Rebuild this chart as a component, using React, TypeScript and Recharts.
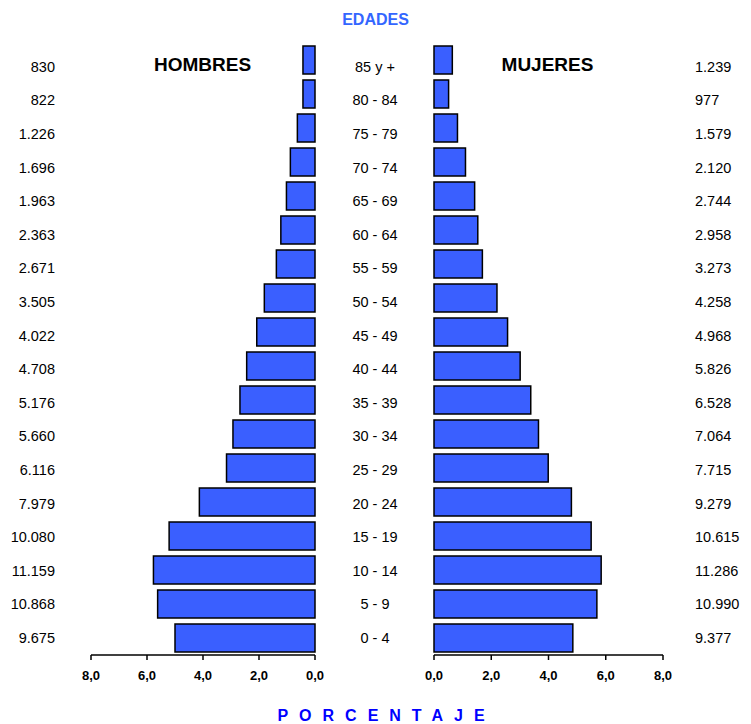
import { BarChart, Bar, XAxis, YAxis } from 'recharts'

const ageGroups = ['85 y +', '80 - 84', '75 - 79', '70 - 74', '65 - 69', '60 - 64', '55 - 59', '50 - 54', '45 - 49', '40 - 44', '35 - 39', '30 - 34', '25 - 29', '20 - 24', '15 - 19', '10 - 14', '5 - 9', '0 - 4']
const menCounts = ['830', '822', '1.226', '1.696', '1.963', '2.363', '2.671', '3.505', '4.022', '4.708', '5.176', '5.660', '6.116', '7.979', '10.080', '11.159', '10.868', '9.675']
const womenCounts = ['1.239', '977', '1.579', '2.120', '2.744', '2.958', '3.273', '4.258', '4.968', '5.826', '6.528', '7.064', '7.715', '9.279', '10.615', '11.286', '10.990', '9.377']
const menPct = [0.43, 0.43, 0.63, 0.88, 1.02, 1.22, 1.38, 1.81, 2.08, 2.44, 2.68, 2.93, 3.16, 4.13, 5.21, 5.77, 5.62, 5.0]
const womenPct = [0.64, 0.51, 0.82, 1.1, 1.42, 1.53, 1.69, 2.2, 2.57, 3.01, 3.38, 3.65, 3.99, 4.8, 5.49, 5.84, 5.69, 4.85]
const pctTicks = [0, 2, 4, 6, 8]

const data = ageGroups.map((age, i) => ({
  age,
  men: menPct[i],
  women: womenPct[i],
}))

const FONT = '"Liberation Sans", Arial, sans-serif'
const BAR = '#3a5fff'
const fmt = (v: number) => v.toFixed(1).replace('.', ',')

// labels in the original sit a little lower than the bars near the top
const labelY = (props: any) => props.y + 5 + (17 - props.index) * 0.4

const MenCountTick = (props: any) => (
  <text x={55} y={labelY(props)} textAnchor="end" fontSize={14.5} fontFamily={FONT} fill="#000">
    {menCounts[props.index]}
  </text>
)

const AgeTick = (props: any) => (
  <text x={375} y={labelY(props)} textAnchor="middle" fontSize={14.5} fontFamily={FONT} fill="#000">
    {ageGroups[props.index]}
  </text>
)

const WomenCountTick = (props: any) => (
  <text x={285} y={labelY(props)} textAnchor="start" fontSize={14.5} fontFamily={FONT} fill="#000">
    {womenCounts[props.index]}
  </text>
)

const axisTick = { fontSize: 13, fontFamily: FONT, fill: '#000', fontWeight: 'bold' as const }

export default function App() {
  return (
    <div style={{ position: 'absolute', left: 0, top: 0, width: 751, height: 724, background: '#fff', fontFamily: FONT }}>
      <div style={{ position: 'absolute', left: 0, top: 0 }}>
        <BarChart
          width={410}
          height={724}
          data={data}
          layout="vertical"
          margin={{ top: 43, bottom: 0, left: 0, right: 0 }}
          barCategoryGap={3}
        >
          <XAxis
            type="number"
            domain={[0, 8]}
            ticks={pctTicks}
            reversed
            tickFormatter={fmt}
            tick={axisTick}
            stroke="#000"
            strokeWidth={1.5}
            tickSize={5}
            tickMargin={11}
            height={69}
          />
          <YAxis yAxisId="l" type="category" dataKey="age" width={91} axisLine={false} tickLine={false} tick={<MenCountTick />} interval={0} />
          <YAxis yAxisId="r" orientation="right" type="category" dataKey="age" width={95} axisLine={false} tickLine={false} tick={<AgeTick />} interval={0} />
          <Bar yAxisId="l" dataKey="men" fill={BAR} stroke="#000" strokeWidth={1.5} isAnimationActive={false} />
        </BarChart>
      </div>
      <div style={{ position: 'absolute', left: 410, top: 0 }}>
        <BarChart
          width={341}
          height={724}
          data={data}
          layout="vertical"
          margin={{ top: 43, bottom: 0, left: 24, right: 0 }}
          barCategoryGap={3}
        >
          <XAxis
            type="number"
            domain={[0, 8]}
            ticks={pctTicks}
            tickFormatter={fmt}
            tick={axisTick}
            stroke="#000"
            strokeWidth={1.5}
            tickSize={5}
            tickMargin={11}
            height={69}
          />
          <YAxis type="category" dataKey="age" orientation="right" width={88} axisLine={false} tickLine={false} tick={<WomenCountTick />} interval={0} />
          <Bar dataKey="women" fill={BAR} stroke="#000" strokeWidth={1.5} isAnimationActive={false} />
        </BarChart>
      </div>
      <div style={{ position: 'absolute', left: 0, width: 751, top: 11, textAlign: 'center', color: '#3366ff', fontWeight: 'bold', fontSize: 16 }}>
        EDADES
      </div>
      <div style={{ position: 'absolute', left: 120, width: 165, top: 54, textAlign: 'center', color: '#000', fontWeight: 'bold', fontSize: 19 }}>
        HOMBRES
      </div>
      <div style={{ position: 'absolute', left: 465, width: 165, top: 54, textAlign: 'center', color: '#000', fontWeight: 'bold', fontSize: 19 }}>
        MUJERES
      </div>
      <div style={{ position: 'absolute', left: 0, width: 751, top: 707, textAlign: 'center', color: '#0000ff', fontWeight: 'bold', fontSize: 16, letterSpacing: 11, paddingLeft: 11 }}>
        PORCENTAJE
      </div>
    </div>
  )
}
